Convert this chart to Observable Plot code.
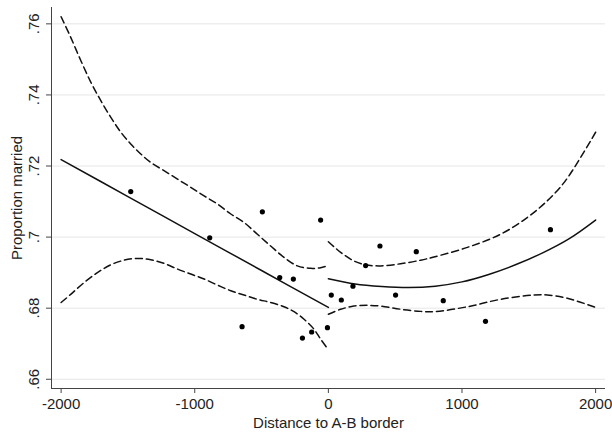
<!DOCTYPE html>
<html>
<head>
<meta charset="utf-8">
<script src="https://cdn.jsdelivr.net/npm/d3@7"></script>
<script src="https://cdn.jsdelivr.net/npm/@observablehq/plot@0.6"></script>
<style>
  html, body { margin: 0; padding: 0; background: #fff; }
  svg { display: block; }
</style>
</head>
<body>
<div id="chart"></div>
<script>
// ---- data ----
const xTicks = [-2000, -1000, 0, 1000, 2000];
const xTickLabels = ["-2000", "-1000", "0", "1000", "2000"];
const yTicks = [0.66, 0.68, 0.70, 0.72, 0.74, 0.76];
const yTickLabels = [".66", ".68", ".7", ".72", ".74", ".76"];
const xDomain = [-2072, 2074];
const yDomain = [0.6574, 0.7646];
const xLabel = "Distance to A-B border";
const yLabel = "Proportion married";

const binX = [-1479, -888, -494, -646, -364, -262, -194, -125, -58, -7, 22, 97, 184, 279, 386, 658, 503, 860, 1176, 1662];
const binY = [0.7128, 0.6998, 0.7071, 0.6748, 0.6886, 0.6882, 0.6716, 0.6733, 0.7048, 0.6745, 0.6837, 0.6823, 0.6862, 0.6920, 0.6975, 0.6959, 0.6837, 0.6821, 0.6763, 0.7021];

const leftFit = [[-2000, 0.7218], [-1500, 0.7114], [-1000, 0.7010], [-500, 0.6906], [0, 0.6802]];
const rightFit = [[0, 0.6883], [200, 0.6868], [400, 0.6861], [600, 0.6858], [800, 0.6862], [1000, 0.6874], [1200, 0.6895], [1400, 0.6922], [1600, 0.6955], [1800, 0.6995], [2000, 0.7048]];
const leftUpper = [[-2000, 0.7620], [-1928, 0.7562], [-1853, 0.7497], [-1778, 0.7436], [-1703, 0.7384], [-1628, 0.7337], [-1553, 0.7295], [-1479, 0.7262], [-1404, 0.7234], [-1329, 0.7210], [-1230, 0.7187], [-1129, 0.7163], [-1030, 0.7140], [-930, 0.7116], [-830, 0.7093], [-730, 0.7065], [-631, 0.7041], [-531, 0.7008], [-432, 0.6975], [-332, 0.6943], [-232, 0.6919], [-132, 0.6912], [-58, 0.6914], [0, 0.6920]];
const leftLower = [[-2000, 0.6816], [-1928, 0.6839], [-1828, 0.6872], [-1728, 0.6900], [-1628, 0.6922], [-1529, 0.6935], [-1429, 0.6940], [-1329, 0.6936], [-1230, 0.6926], [-1129, 0.6910], [-1030, 0.6896], [-930, 0.6882], [-830, 0.6865], [-730, 0.6849], [-631, 0.6837], [-531, 0.6825], [-432, 0.6816], [-332, 0.6804], [-257, 0.6790], [-182, 0.6769], [-108, 0.6741], [-58, 0.6713], [0, 0.6683]];
const rightUpper = [[0, 0.6987], [92, 0.6957], [191, 0.6933], [279, 0.6922], [391, 0.6919], [541, 0.6925], [690, 0.6935], [790, 0.6944], [1040, 0.6971], [1289, 0.7008], [1488, 0.7055], [1638, 0.7102], [1775, 0.7159], [2000, 0.7295]];
const rightLower = [[0, 0.6783], [92, 0.6797], [191, 0.6806], [292, 0.6808], [391, 0.6806], [541, 0.6797], [690, 0.6791], [790, 0.6790], [1040, 0.6804], [1289, 0.6825], [1538, 0.6837], [1638, 0.6837], [1788, 0.6828], [2000, 0.6802]];

// ---- build ----
const points = binX.map((x, i) => ({x, y: binY[i]}));
const FONT = "'Liberation Sans', Arial, Helvetica, sans-serif";
const lineOpts = {x: d => d[0], y: d => d[1], stroke: "#111", strokeWidth: 1.5, curve: "catmull-rom"};
const dashOpts = {...lineOpts, strokeDasharray: "7,4"};

const chart = Plot.plot({
  width: 612,
  height: 432,
  marginLeft: 51,
  marginRight: 7,
  marginTop: 7,
  marginBottom: 44,
  style: {fontFamily: FONT, fontSize: "15px", background: "#fff", color: "#222"},
  x: {domain: xDomain, label: null},
  y: {domain: yDomain, label: null},
  marks: [
    Plot.ruleY(yTicks, {stroke: "#e6e6e6", strokeWidth: 1}),
    Plot.ruleX([xDomain[0]], {stroke: "#444", strokeWidth: 1}),
    Plot.ruleY([yDomain[0]], {stroke: "#444", strokeWidth: 1}),
    Plot.axisX(xTicks, {tickSize: 5, tickPadding: 5, tickFormat: (d) => xTickLabels[xTicks.indexOf(d)], fontSize: 15, label: null, stroke: "#444"}),
    Plot.axisY(yTicks, {tickSize: 5, tickFormat: () => "", label: null, stroke: "#444"}),
    Plot.text(yTicks, {frameAnchor: "left", y: d => d, text: d => yTickLabels[yTicks.indexOf(d)], rotate: -90, textAnchor: "middle", lineAnchor: "middle", dx: -17, fontSize: 15, fill: "#222"}),
    Plot.text([yLabel], {frameAnchor: "left", rotate: -90, textAnchor: "middle", lineAnchor: "middle", dx: -34, fontSize: 15, fill: "#222"}),
    Plot.text([xLabel], {frameAnchor: "bottom", textAnchor: "middle", lineAnchor: "middle", dy: 35, fontSize: 15, fill: "#222"}),
    Plot.line(leftUpper, dashOpts),
    Plot.line(leftLower, dashOpts),
    Plot.line(rightUpper, dashOpts),
    Plot.line(rightLower, dashOpts),
    Plot.line(leftFit, lineOpts),
    Plot.line(rightFit, lineOpts),
    Plot.dot(points, {x: "x", y: "y", r: 2.6, fill: "#000", stroke: null})
  ]
});
document.getElementById("chart").appendChild(chart);
</script>
</body>
</html>
